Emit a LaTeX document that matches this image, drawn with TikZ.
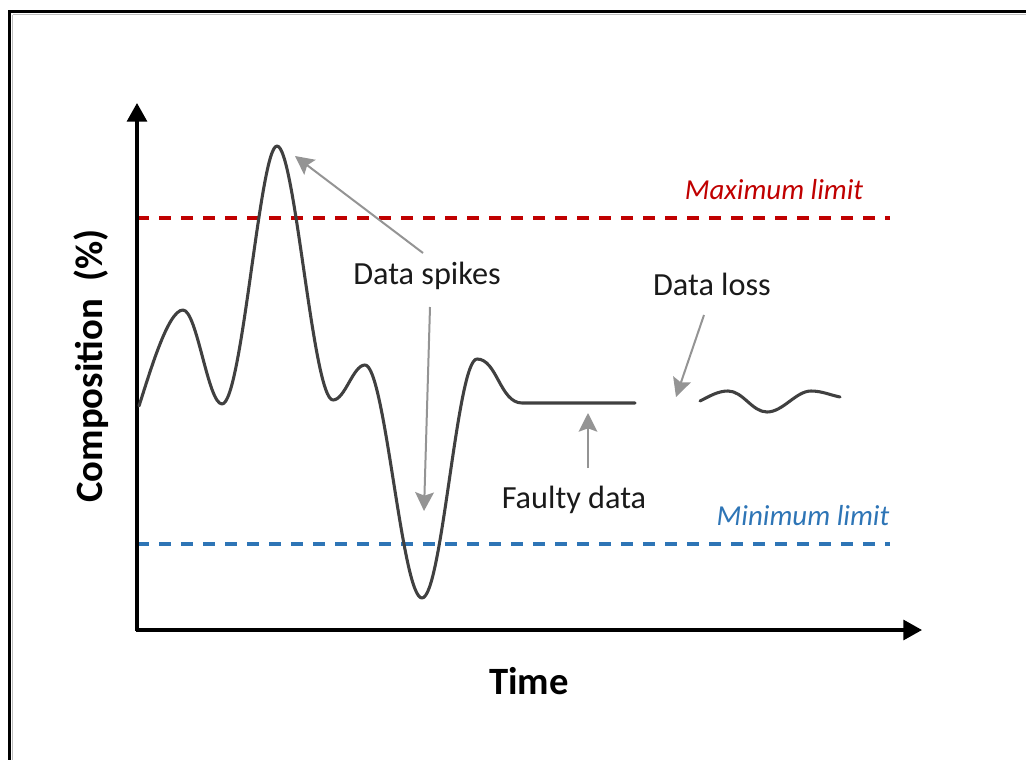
\documentclass[tikz,border=0pt]{standalone}
\usepackage{fontspec}
\setmainfont{Carlito}
\usetikzlibrary{arrows.meta}
\definecolor{curvegray}{HTML}{404040}
\definecolor{arrgray}{HTML}{949494}
\definecolor{maxred}{HTML}{C00000}
\definecolor{minblue}{HTML}{2E75B6}
\definecolor{txt}{HTML}{1A1A1A}
\tikzset{
  axisline/.style={line width=2.3pt,black,-{Triangle[length=14pt,width=15pt]}},
  limitline/.style={line width=2.3pt,dash pattern=on 9pt off 7.5pt},
  datacurve/.style={line width=2.3pt,curvegray,line cap=round,line join=round},
  callout/.style={line width=1.5pt,arrgray,-{Stealth[length=14pt,width=14pt,inset=2.5pt]}},
  lbl/.style={font=\fontsize{24.2}{29}\selectfont,text=txt,inner sep=0pt},
  limlbl/.style={font=\fontsize{21.7}{26}\selectfont\itshape,inner sep=0pt},
  axlbl/.style={font=\fontsize{29}{34}\selectfont\bfseries,text=black,inner sep=0pt}
}
\begin{document}
\begin{tikzpicture}[x=0.75pt,y=-0.75pt]
\useasboundingbox (0,0) rectangle (1026,760);
\clip (0,0) rectangle (1026,760);
% frame (top and left edges; the rest lies outside the picture)
\coordinate (fTL) at (9.5,11.5);
\coordinate (fTR) at (1040,11.5);
\coordinate (fBL) at (9.5,780);
\draw[line width=0.8pt,gray!50] (12.5,14.2) -- (1040,14.2);
\draw[line width=0.8pt,gray!50] (12.2,14.5) -- (12.2,780);
\draw[line width=2.3pt,black,line cap=rect] (fBL) -- (fTL) -- (fTR);
% limits
\coordinate (maxL) at (137,218);
\coordinate (maxR) at (890,218);
\coordinate (minL) at (137,544);
\coordinate (minR) at (890,544);
\draw[limitline,maxred] (maxL) -- (maxR);
\draw[limitline,minblue] (minL) -- (minR);
\node[limlbl,text=maxred] (maxlbl) at (774,190) {Maximum limit};
\node[limlbl,text=minblue] (minlbl) at (803,516) {Minimum limit};
% axes
\coordinate (origin) at (137,630);
\coordinate (ytip) at (137,103);
\coordinate (xtip) at (922,630);
\draw[axisline] (137,631.1) -- (ytip);
\draw[axisline] (135.9,630) -- (xtip);
\node[axlbl] (xlbl) at (529,681) {Time};
\node[axlbl,rotate=90] (ylbl) at (91,366) {Composition~~(\%)};
% curve
\draw[datacurve] (139,406)
  .. controls (150,372) and (168,310) .. (183,310)
  .. controls (197,310) and (208,404) .. (222,404)
  .. controls (242,404) and (260,146) .. (277,146)
  .. controls (295,146) and (313,400) .. (333,400)
  .. controls (345,400) and (353,365) .. (365,365)
  .. controls (385,365) and (402,598) .. (422,598)
  .. controls (442,598) and (457,359) .. (477,359)
  .. controls (497,359) and (500,403) .. (522,403)
  -- (635,403);
\draw[datacurve] (700,401)
  .. controls (710,396) and (718,391) .. (728,391)
  .. controls (743,391) and (752,412) .. (767,412)
  .. controls (783,412) and (796,391) .. (811,391)
  .. controls (822,391) and (830,395) .. (840,397);
% labels
\node[lbl] (spikes) at (427,276) {Data spikes};
\node[lbl] (loss) at (712,284) {Data loss};
\node[lbl] (faulty) at (574,500) {Faulty data};
% callout ends
\coordinate (s1a) at (423,253);
\coordinate (s1b) at (295,156);
\coordinate (s2a) at (430,307);
\coordinate (s2b) at (424,511);
\coordinate (la) at (704,315);
\coordinate (lb) at (676,397);
\coordinate (fa) at (588,468);
\coordinate (fb) at (588,413);
\draw[callout] (s1a) -- (s1b);
\draw[callout] (s2a) -- (s2b);
\draw[callout] (la) -- (lb);
\draw[callout] (fa) -- (fb);
\end{tikzpicture}
\end{document}
